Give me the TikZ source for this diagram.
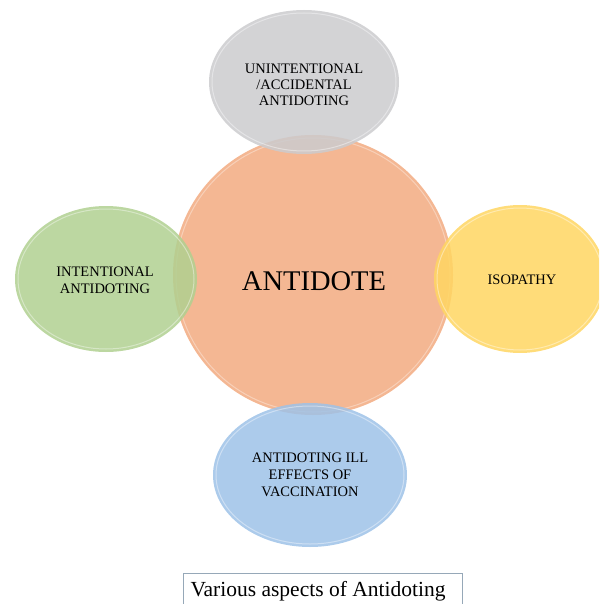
\documentclass[tikz,border=0pt]{standalone}
\usepackage{fontspec}
\setmainfont{Liberation Serif}
\usepackage{tikz}
\usetikzlibrary{positioning}
\usepackage{xcolor}
\definecolor{antiorange}{RGB}{244,183,147}
\definecolor{antigray}{RGB}{203,203,206}
\definecolor{antigreen}{RGB}{176,208,144}
\definecolor{antiyellow}{RGB}{255,214,98}
\definecolor{antiblue}{RGB}{158,194,232}
\definecolor{capframe}{RGB}{150,168,184}

\begin{document}
\begin{tikzpicture}[x=1pt,y=-1pt]
    \useasboundingbox (0,0) rectangle (599,604);
    \clip (0,0) rectangle (599,604);
    % Central circle
    \fill[antiorange] (313,275) circle (140);
    \draw[white, opacity=0.35, line width=1pt] (313,275) circle (137);
    % Satellites, semi-transparent over the centre
    \fill[antigray, opacity=0.85] (304,82) ellipse (95 and 72);
    \fill[antigreen, opacity=0.85] (106,279) ellipse (91 and 73);
    \fill[antiyellow, opacity=0.85] (520,279) ellipse (86 and 74);
    \fill[antiblue, opacity=0.85] (310,475) ellipse (97 and 72);
    \draw[white, opacity=0.4, line width=1pt] (304,82) ellipse (92 and 69);
    \draw[white, opacity=0.4, line width=1pt] (106,279) ellipse (88 and 70);
    \draw[white, opacity=0.4, line width=1pt] (520,279) ellipse (83 and 71);
    \draw[white, opacity=0.4, line width=1pt] (310,475) ellipse (94 and 69);
    % Labels
    \node[font=\fontsize{28.5}{32}\selectfont] (antidote) at (314,281) {ANTIDOTE};
    \node[font=\fontsize{14.5}{16}\selectfont, align=center] (accidental) at (304,85) {UNINTENTIONAL\\/ACCIDENTAL\\ANTIDOTING};
    \node[font=\fontsize{14.5}{17}\selectfont, align=center] (intentional) at (105,280) {INTENTIONAL\\ANTIDOTING};
    \node[font=\fontsize{14.5}{17}\selectfont] (isopathy) at (522,280) {ISOPATHY};
    \node[font=\fontsize{14.5}{17}\selectfont, align=center] (vaccination) at (310,475) {ANTIDOTING ILL\\EFFECTS OF\\VACCINATION};
    % Caption
    \draw[capframe, line width=0.8pt] (183,620) -- (183,573) -- (462,573) -- (462,620);
    \node[font=\fontsize{21.5}{25}\selectfont] (caption) at (318,591) {Various aspects of Antidoting};
\end{tikzpicture}
\end{document}
